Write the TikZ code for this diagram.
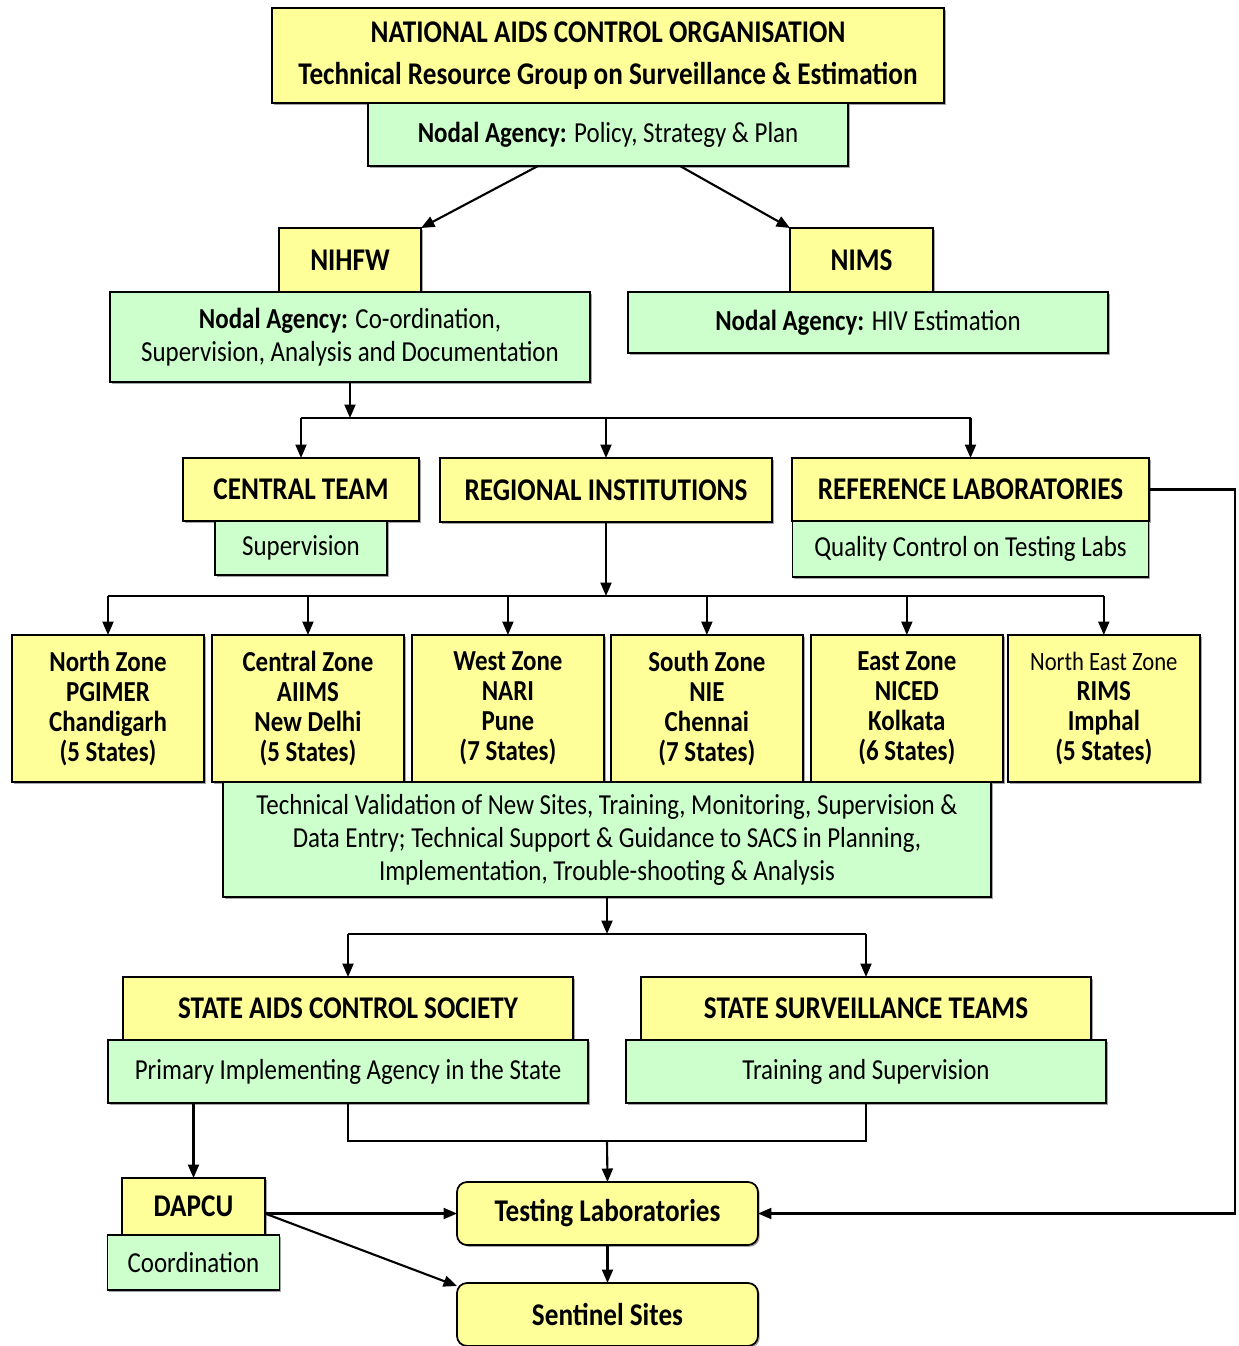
\documentclass[tikz,border=0pt]{standalone}
\usepackage{fontspec}
\setmainfont[FakeStretch=0.86]{Carlito}
\usetikzlibrary{arrows.meta, positioning, shadows}
\definecolor{boxyellow}{HTML}{FFFF99}
\definecolor{boxgreen}{HTML}{CCFFCC}

\begin{document}
\begin{tikzpicture}[
    x=0.02cm, y=-0.02cm,
    font=\fontsize{16.5}{19}\selectfont,
    yellowbox/.style={
        rectangle,
        draw,
        line width=1pt,
        outer sep=0pt,
        fill=boxyellow,
        inner sep=1pt,
        align=center,
        font=\fontsize{18}{21}\selectfont\bfseries,
        drop shadow={shadow xshift=1pt, shadow yshift=-1pt, opacity=0.7}
    },
    greenbox/.style={
        rectangle,
        draw,
        line width=1pt,
        outer sep=0pt,
        fill=boxgreen,
        inner sep=1pt,
        align=center,
        drop shadow={shadow xshift=1pt, shadow yshift=-1pt, opacity=0.7}
    },
    zonebox/.style={
        yellowbox,
        minimum width=3.84cm,
        minimum height=2.94cm,
        font=\fontsize{16.5}{17}\selectfont\bfseries
    },
    labbox/.style={
        yellowbox,
        rounded corners=0.2cm,
        minimum width=6.02cm,
        minimum height=1.26cm
    },
    arrow/.style={
        -{Triangle[length=0.27cm, width=0.22cm]},
        line width=1.2pt
    },
    link/.style={
        line width=1.2pt
    }
]
    \useasboundingbox (0,0) rectangle (1238,1346);

    % top level
    \node (naco) [yellowbox, minimum width=13.44cm, minimum height=1.9cm, font=\fontsize{18}{24}\selectfont\bfseries] at (608,55.5)
        {NATIONAL AIDS CONTROL ORGANISATION\\Technical Resource Group on Surveillance \& Estimation};
    \node (nacoNA) [greenbox, minimum width=9.6cm, minimum height=1.26cm, below=0pt of naco]
        {\textbf{Nodal Agency:} Policy, Strategy \& Plan};

    % nodal agencies
    \node (nihfw) [yellowbox, minimum width=2.84cm, minimum height=1.28cm] at (350,260) {NIHFW};
    \node (nihfwNA) [greenbox, minimum width=9.6cm, minimum height=1.8cm, below=0pt of nihfw, font=\fontsize{16.5}{18.8}\selectfont]
        {\textbf{Nodal Agency:} Co-ordination,\\Supervision, Analysis and Documentation};
    \node (nims) [yellowbox, minimum width=2.86cm, minimum height=1.28cm] at (861.5,260) {NIMS};
    \node (nimsNA) [greenbox, minimum width=9.6cm, minimum height=1.22cm, below=0pt of nims, xshift=0.13cm]
        {\textbf{Nodal Agency:} HIV Estimation};

    \draw[arrow] ([xshift=-1.4cm]nacoNA.south) -- (nihfw.north east);
    \draw[arrow] ([xshift=1.44cm]nacoNA.south) -- (nims.north west);

    % second level
    \node (central) [yellowbox, minimum width=4.72cm, minimum height=1.26cm] at (301,489.5) {CENTRAL TEAM};
    \node (centralNA) [greenbox, minimum width=3.44cm, minimum height=1.08cm, below=0pt of central] {Supervision};
    \node (regional) [yellowbox, minimum width=6.64cm, minimum height=1.28cm] at (606,490) {REGIONAL INSTITUTIONS};
    \node (reflab) [yellowbox, minimum width=7.14cm, minimum height=1.26cm] at (970.5,489.5) {REFERENCE LABORATORIES};
    \node (reflabNA) [greenbox, minimum width=7.12cm, minimum height=1.12cm, below=0pt of reflab] {Quality Control on Testing Labs};

    \coordinate (hub1) at (350,418);
    \draw[arrow] (nihfwNA.south) -- (hub1);
    \draw[link] (central.north |- hub1) -- (reflab.north |- hub1);
    \foreach \n in {central, regional, reflab}
        \draw[arrow] (\n.north |- hub1) -- (\n.north);

    % regional zones
    \node (zone1) [zonebox] at (108,708.5) {North Zone\\PGIMER\\Chandigarh\\(5 States)};
    \node (zone2) [zonebox, right=0.16cm of zone1] {Central Zone\\AIIMS\\New Delhi\\(5 States)};
    \node (zone3) [zonebox, right=0.16cm of zone2] {West Zone\\NARI\\Pune\\(7 States)};
    \node (zone4) [zonebox, right=0.14cm of zone3] {South Zone\\NIE\\Chennai\\(7 States)};
    \node (zone5) [zonebox, right=0.16cm of zone4] {East Zone\\NICED\\Kolkata\\(6 States)};
    \node (zone6) [zonebox, right=0.1cm of zone5] {{\mdseries\fontsize{15}{17}\selectfont North East Zone}\\RIMS\\Imphal\\(5 States)};

    \coordinate (hub2) at (606,596);
    \draw[arrow] (regional.south) -- (hub2);
    \draw[link] (zone1.north |- hub2) -- (zone6.north |- hub2);
    \foreach \i in {1,...,6}
        \draw[arrow] (zone\i.north |- hub2) -- (zone\i.north);

    \node (technical) [greenbox, minimum width=15.36cm, minimum height=2.3cm, font=\fontsize{16.5}{18.8}\selectfont] at (607,839.5)
        {Technical Validation of New Sites, Training, Monitoring, Supervision \&\\
         Data Entry; Technical Support \& Guidance to SACS in Planning,\\
         Implementation, Trouble-shooting \& Analysis};

    % state level
    \node (sacs) [yellowbox, minimum width=9cm, minimum height=1.26cm] at (348,1008.5) {STATE AIDS CONTROL SOCIETY};
    \node (sacsNA) [greenbox, minimum width=9.6cm, minimum height=1.26cm, below=0pt of sacs] {Primary Implementing Agency in the State};
    \node (sst) [yellowbox, minimum width=9cm, minimum height=1.26cm] at (866,1008.5) {STATE SURVEILLANCE TEAMS};
    \node (sstNA) [greenbox, minimum width=9.6cm, minimum height=1.26cm, below=0pt of sst] {Training and Supervision};

    \coordinate (hub3) at (607,934);
    \draw[arrow] (technical.south) -- (hub3);
    \draw[link] (sacs.north |- hub3) -- (sst.north |- hub3);
    \draw[arrow] (sacs.north |- hub3) -- (sacs.north);
    \draw[arrow] (sst.north |- hub3) -- (sst.north);

    % district and labs
    \node (dapcu) [yellowbox, minimum width=2.86cm, minimum height=1.14cm] at (193.5,1206.5) {DAPCU};
    \node (dapcuNA) [greenbox, minimum width=3.44cm, minimum height=1.1cm, below=0pt of dapcu] {Coordination};
    \node (testlab) [labbox] at (607.5,1213.5) {Testing Laboratories};
    \node (sentinel) [labbox, below=0.76cm of testlab] {Sentinel Sites};

    \coordinate (hub4) at (607,1141);
    \draw[link] (sacsNA.south) |- (sstNA.south |- hub4) -- (sstNA.south);
    \draw[arrow] (hub4) -- (testlab.north);
    \draw[arrow] (sacsNA.south -| dapcu.north) -- (dapcu.north);
    \draw[arrow] (dapcu.east |- testlab.west) -- (testlab.west);
    \draw[arrow] (dapcu.east |- testlab.west) -- ([yshift=-0.06cm]sentinel.north west);
    \draw[arrow] (testlab.south) -- (sentinel.north);

    \coordinate (rail) at (1235,0);
    \draw[arrow] (reflab.east) -- (reflab.east -| rail) |- (testlab.east);

\end{tikzpicture}
\end{document}
